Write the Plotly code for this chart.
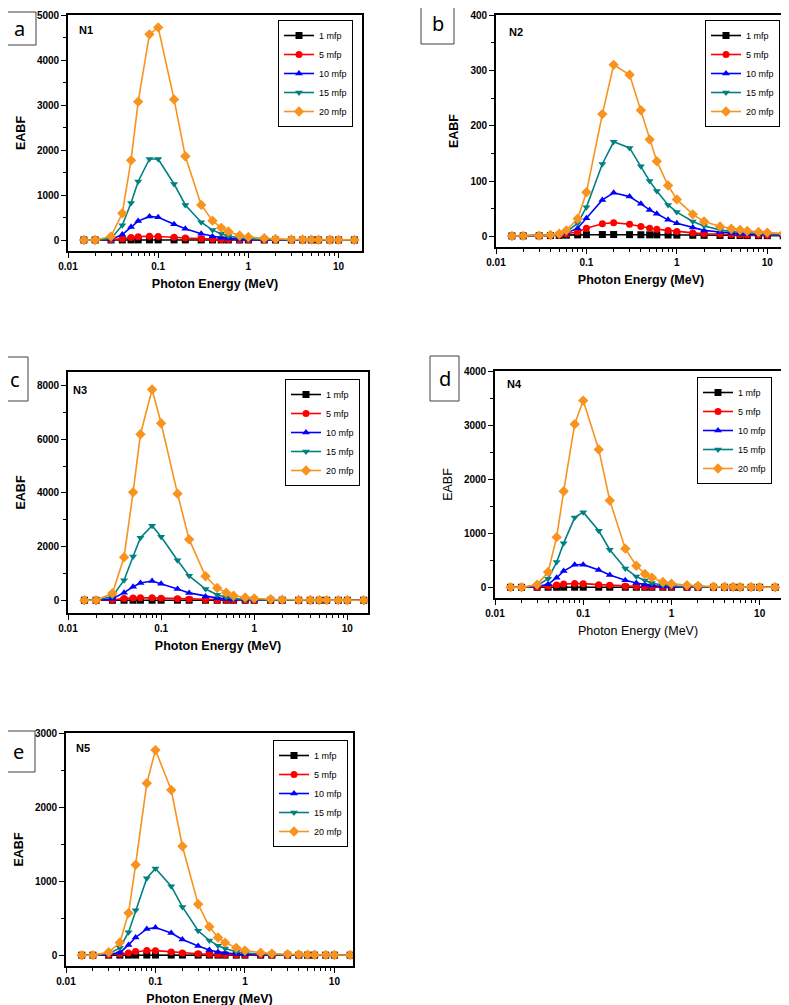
import plotly.graph_objects as go

W, H = 789, 1005
OFF = 8  # the page body adds an 8 px margin; positions below are screen pixels

energy = [0.015, 0.02, 0.03, 0.04, 0.05, 0.06, 0.08, 0.1, 0.15, 0.2, 0.3, 0.4, 0.5,
          0.6, 0.8, 1, 1.5, 2, 3, 4, 5, 6, 8, 10, 15]
series_names = ["1 mfp", "5 mfp", "10 mfp", "15 mfp", "20 mfp"]
x_tick_vals = [0.01, 0.1, 1, 10]
x_tick_text = ["0.01", "0.1", "1", "10"]

one_mfp_low = [1.0, 1.1, 1.4, 1.8, 2.1, 2.3, 2.5, 2.5, 2.4, 2.3, 2.1, 2.0, 1.9, 1.8, 1.7,
               1.6, 1.5, 1.5, 1.4, 1.4, 1.3, 1.3, 1.3, 1.2, 1.2]

# N1
n1_1 = one_mfp_low
n1_5 = [1.0, 1.3, 6, 30, 58, 75, 85, 80, 62, 45, 26, 18, 13, 10, 7, 5.5, 4, 3.3, 2.7, 2.4, 2.2, 2.1, 2.0, 1.9, 1.8]
n1_10 = [1.0, 1.4, 15, 120, 290, 420, 525, 505, 350, 252, 140, 80, 50, 32, 17, 11, 6, 4.5, 3.5, 3, 2.8, 2.6, 2.5, 2.4, 2.3]
n1_15 = [1.0, 1.5, 30, 330, 825, 1300, 1800, 1800, 1245, 780, 395, 220, 140, 90, 42, 25, 11, 7, 4.5, 3.8, 3.4, 3.1, 2.9, 2.8, 2.7]
n1_20 = [1.0, 1.6, 80, 595, 1770, 3075, 4570, 4725, 3125, 1860, 780, 430, 270, 190, 100, 68, 38, 24, 14, 10, 8, 6.5, 5, 4, 3]

# N2
n2_1 = [1.0, 1.1, 1.3, 1.6, 2.0, 2.4, 2.9, 3.2, 3.5, 3.5, 3.3, 3.1, 3.0, 2.9, 2.7, 2.5, 2.2, 2.1, 1.9, 1.8, 1.7, 1.6, 1.5, 1.5, 1.4]
n2_5 = [1.0, 1.1, 1.4, 2, 3, 4.5, 8, 15, 23, 25, 22, 18, 15, 13, 11, 9, 6.5, 5, 4, 3.4, 3, 2.8, 2.5, 2.3, 2.1]
n2_10 = [1.0, 1.1, 1.4, 2.2, 3.5, 6, 15, 33, 66, 79, 72, 59, 48, 41, 30, 24, 16, 11, 8, 6, 5, 4.5, 3.8, 3.3, 2.8]
n2_15 = [1.0, 1.1, 1.5, 2.4, 4.5, 8, 24, 53, 131, 171, 160, 127, 100, 82, 57, 44, 27, 19, 12, 9, 7.5, 6.5, 5.2, 4.5, 3.6]
n2_20 = [1.0, 1.1, 1.5, 2.6, 5, 11, 32, 80, 221, 310, 292, 228, 175, 136, 92, 67, 40, 27, 18, 14, 12, 10, 8, 7, 5.5]

# N3
n3_1 = one_mfp_low
n3_5 = [1.0, 1.3, 20, 62, 82, 90, 90, 80, 58, 42, 22, 15, 11, 9, 6.5, 5, 4, 3.3, 2.7, 2.4, 2.2, 2.1, 2, 1.9, 1.8]
n3_10 = [1.0, 1.5, 60, 285, 505, 645, 720, 620, 420, 275, 145, 80, 48, 32, 17, 11, 6, 4.5, 3.5, 3, 2.8, 2.6, 2.5, 2.4, 2.3]
n3_15 = [1.0, 1.6, 150, 750, 1630, 2330, 2780, 2365, 1495, 910, 420, 205, 110, 62, 30, 19, 9, 6.5, 4.5, 3.8, 3.4, 3.1, 2.9, 2.8, 2.7]
n3_20 = [1.0, 1.8, 260, 1605, 4025, 6190, 7860, 6600, 3975, 2270, 895, 460, 285, 170, 105, 70, 38, 24, 14, 10, 8, 6.5, 5, 4, 3]

# N4
n4_1 = one_mfp_low
n4_5 = [1.0, 1.2, 8, 22, 45, 60, 70, 68, 50, 38, 22, 15, 11, 9, 6.5, 5, 4, 3.3, 2.7, 2.4, 2.2, 2.1, 2, 1.9, 1.8]
n4_10 = [1.0, 1.3, 15, 55, 178, 300, 418, 420, 320, 228, 130, 80, 50, 32, 17, 11, 6, 4.5, 3.5, 3, 2.8, 2.6, 2.5, 2.4, 2.3]
n4_15 = [1.0, 1.4, 30, 158, 467, 817, 1290, 1390, 1045, 695, 350, 200, 128, 82, 40, 25, 11, 7, 4.5, 3.8, 3.4, 3.1, 2.9, 2.8, 2.7]
n4_20 = [1.0, 1.5, 50, 283, 928, 1776, 3017, 3453, 2550, 1605, 715, 400, 248, 180, 100, 68, 38, 24, 14, 10, 8, 6.5, 5, 4, 3]

# N5
n5_1 = one_mfp_low
n5_5 = [1.0, 1.2, 6, 18, 32, 50, 65, 62, 45, 32, 20, 14, 10, 8, 6, 5, 4, 3.3, 2.7, 2.4, 2.2, 2.1, 2, 1.9, 1.8]
n5_10 = [1.0, 1.3, 12, 35, 140, 240, 355, 375, 300, 213, 125, 72, 45, 30, 16, 11, 6, 4.5, 3.5, 3, 2.8, 2.6, 2.5, 2.4, 2.3]
n5_15 = [1.0, 1.4, 22, 100, 312, 606, 1040, 1172, 932, 652, 330, 200, 130, 90, 48, 30, 13, 8, 5, 4, 3.5, 3.2, 3, 2.8, 2.7]
n5_20 = [1.0, 1.5, 40, 172, 570, 1222, 2321, 2769, 2231, 1471, 688, 385, 240, 170, 100, 65, 35, 22, 14, 10, 8, 6.5, 5, 4, 3]

colors = ["#000000", "#FF0000", "#0000FF", "#008080", "#F7931E"]
symbols = ["square", "circle", "triangle-up", "triangle-down", "diamond"]

# panel layout (screen pixel boxes: left, top, right, bottom); leg = (right, top) of legend box
panels = [
    dict(name="N1", letter="a", data=[n1_1, n1_5, n1_10, n1_15, n1_20], box=(68, 15, 362, 251),
         yr=[-244, 5000], dt=1000, xr=[-2, 1.26], lbox=(3, 12, 36, 45), nlab=(77, 30),
         leg=(353, 20), bold=True),
    dict(name="N2", letter="b", data=[n2_1, n2_5, n2_10, n2_15, n2_20], box=(496, 15, 786, 247),
         yr=[-19, 400], dt=100, xr=[-2, 1.207], lbox=(421, 2, 454, 44), nlab=(507, 32),
         leg=(780, 20), bold=True),
    dict(name="N3", letter="c", data=[n3_1, n3_5, n3_10, n3_15, n3_20], box=(68, 372, 368, 613),
         yr=[-474, 8510], dt=2000, xr=[-2, 1.222], lbox=(2, 357, 28, 401), nlab=(71, 390),
         leg=(360, 379), bold=True),
    dict(name="N4", letter="d", data=[n4_1, n4_5, n4_10, n4_15, n4_20], box=(495, 371, 781, 598),
         yr=[-197, 4000], dt=1000, xr=[-2, 1.242], lbox=(430, 356, 459, 401), nlab=(505, 384),
         leg=(772, 377), bold=False),
    dict(name="N5", letter="e", data=[n5_1, n5_5, n5_10, n5_15, n5_20], box=(66, 733, 353, 966),
         yr=[-145, 3000], dt=1000, xr=[-2, 1.208], lbox=(2, 731, 35, 772), nlab=(74, 748),
         leg=(348, 740), bold=True),
]

FONT = "Liberation Sans, Arial, sans-serif"
fig = go.Figure()
annotations = []
shapes = []
layout_axes = {}

def px_x(v):
    return (v - OFF) / W

def px_y(v):
    return 1 - (v - OFF) / H

for i, p in enumerate(panels):
    k = "" if i == 0 else str(i + 1)
    xa, ya = "x" + k, "y" + k
    leg = "legend" + k
    for j, (nm, vals) in enumerate(zip(series_names, p["data"])):
        fig.add_trace(go.Scatter(
            x=energy, y=vals, mode="lines+markers", name=nm,
            xaxis=xa, yaxis=ya, legend=leg,
            line=dict(color=colors[j], width=1.6),
            marker=dict(symbol=symbols[j], size=7 if j < 4 else 8, color=colors[j],
                        line=dict(width=0)),
        ))
    l, t, r, b = p["box"]
    tw = 700 if p["bold"] else 400
    tick_font = dict(family=FONT, size=10, color="black", weight=700)
    title_font = dict(family=FONT, size=12.5, color="black", weight=tw)
    layout_axes["xaxis" + k] = dict(
        domain=[px_x(l), px_x(r)], anchor=ya, type="log", range=p["xr"], automargin=False,
        tickmode="array", tickvals=x_tick_vals, ticktext=x_tick_text,
        ticks="outside", ticklen=5, tickwidth=1.3, tickcolor="black",
        minor=dict(ticks="outside", ticklen=3, tickwidth=1, tickcolor="black", dtick="D1"),
        showline=True, linecolor="black", linewidth=1.6, mirror=True,
        showgrid=False, zeroline=False, tickfont=tick_font,
        title=dict(text="Photon Energy (MeV)", font=title_font, standoff=8),
    )
    layout_axes["yaxis" + k] = dict(
        domain=[px_y(b), px_y(t)], anchor=xa, range=p["yr"], dtick=p["dt"], tick0=0,
        automargin=False,
        ticks="outside", ticklen=5, tickwidth=1.3, tickcolor="black",
        minor=dict(ticks="outside", ticklen=3, tickwidth=1, tickcolor="black", dtick=p["dt"] / 2),
        showline=True, linecolor="black", linewidth=1.6, mirror=True,
        showgrid=False, zeroline=False, tickfont=tick_font,
        title=dict(text="EABF", font=title_font, standoff=9),
    )
    lx, ly = p["leg"]
    layout_axes[leg] = dict(
        x=px_x(lx), y=px_y(ly), xanchor="right", yanchor="top", xref="paper", yref="paper",
        bgcolor="white", bordercolor="black", borderwidth=1,
        font=dict(family=FONT, size=9, color="black"), itemwidth=30, tracegroupgap=0,
    )
    # letter box
    bl, bt, br, bb = p["lbox"]
    shapes.append(dict(type="rect", xref="paper", yref="paper",
                       x0=px_x(bl), x1=px_x(br), y0=px_y(bb), y1=px_y(bt),
                       line=dict(color="#404040", width=1), fillcolor="white"))
    annotations.append(dict(text=p["letter"], xref="paper", yref="paper",
                            x=px_x((bl + br) / 2), y=px_y((bt + bb) / 2),
                            xanchor="center", yanchor="middle", showarrow=False,
                            font=dict(family="Noto Sans, sans-serif", size=20, color="black")))
    nx, ny = p["nlab"]
    annotations.append(dict(text=p["name"], xref="paper", yref="paper",
                            x=px_x(nx), y=px_y(ny), xanchor="left", yanchor="middle",
                            showarrow=False,
                            font=dict(family=FONT, size=11, color="black", weight=700)))

fig.update_layout(
    width=W, height=H, margin=dict(l=0, r=0, t=0, b=0, autoexpand=False),
    paper_bgcolor="white", plot_bgcolor="white",
    showlegend=True, shapes=shapes, annotations=annotations,
    **layout_axes,
)
fig.write_html("out.html")
